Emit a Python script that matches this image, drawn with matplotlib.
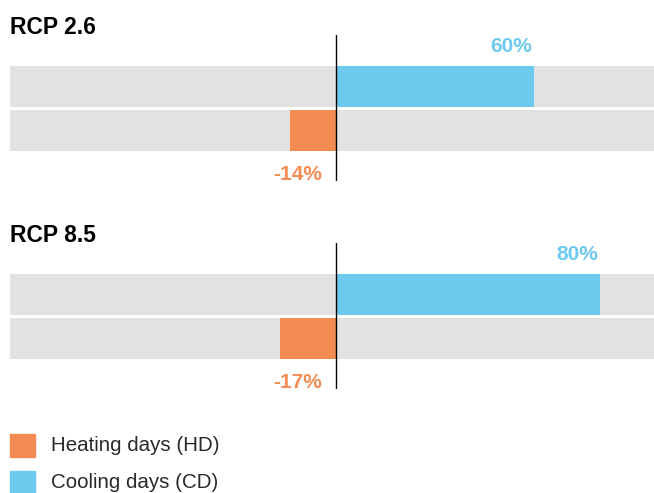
import matplotlib
matplotlib.use("Agg")
import matplotlib.pyplot as plt
from matplotlib.patches import Rectangle

# Change in heating / cooling degree days by scenario (%)
scenarios = ["RCP 2.6", "RCP 8.5"]
cooling = [60, 80]
heating = [-14, -17]
legend_labels = ["Heating days (HD)", "Cooling days (CD)"]

BLUE = "#6DC9EE"
ORANGE = "#F28C52"
GREY = "#E2E2E2"

plt.rcParams["font.family"] = ["Liberation Sans", "DejaVu Sans"]

W, H = 654, 493
fig = plt.figure(figsize=(W / 100, H / 100), dpi=100)

XMIN, XMAX = -98.8, 96.4
tops = [35, 243]          # top of each panel, px from figure top
panel_h = 146

for i, (name, cd, hd) in enumerate(zip(scenarios, cooling, heating)):
    top = tops[i]
    ax = fig.add_axes([10 / W, 1 - (top + panel_h) / H, 644 / W, panel_h / H])
    ax.set_xlim(XMIN, XMAX)
    ax.set_ylim(2.148, -1.17)
    ax.axis("off")

    # grey track behind each row
    ax.barh([0, 1], [XMAX - XMIN] * 2, left=XMIN, height=0.93, color=GREY, zorder=1)
    ax.barh(0, cd, height=0.93, color=BLUE, zorder=2)
    ax.barh(1, hd, height=0.93, color=ORANGE, zorder=2)
    ax.axvline(0, color="black", lw=1.0, zorder=3)

    ax.annotate(f"{cd}%", xy=(cd, -0.91), xytext=(-1.5, 0), textcoords="offset points",
                ha="right", va="center", fontsize=15, fontweight="bold", color=BLUE)
    ax.annotate(f"{hd}%", xy=(0, 1.99), xytext=(-10, 0), textcoords="offset points",
                ha="right", va="center", fontsize=15, fontweight="bold", color=ORANGE)

    fig.text(10 / W, 1 - (top - 7) / H, name, ha="left", va="center",
             fontsize=16.5, fontweight="bold", color="black")

# legend
for j, (lab, col) in enumerate(zip(legend_labels, [ORANGE, BLUE])):
    y0 = 434 + j * 37
    fig.patches.append(Rectangle((10 / W, 1 - (y0 + 23) / H), 25 / W, 23 / H,
                                 transform=fig.transFigure, color=col, figure=fig))
    fig.text(51 / W, 1 - (y0 + 11.5) / H, lab, ha="left", va="center",
             fontsize=14.8, color="#2a2a2a")

fig.savefig("out.png", dpi=100, facecolor="white")
